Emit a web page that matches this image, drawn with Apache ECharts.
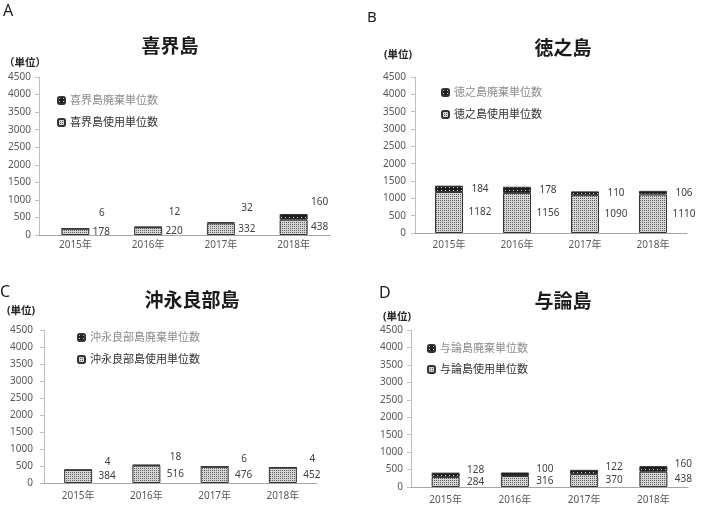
<!DOCTYPE html>
<html><head><meta charset="utf-8">
<script src="https://cdn.jsdelivr.net/npm/echarts@6/dist/echarts.min.js"></script>
<style>html,body{margin:0;padding:0;background:#fff}#c{width:702px;height:505px}</style>
</head><body><div id="c"></div><script>
const categories = ['2015年', '2016年', '2017年', '2018年'];
const kikaiUsed = [178, 220, 332, 438];
const kikaiDiscard = [6, 12, 32, 160];
const tokunoUsed = [1182, 1156, 1090, 1110];
const tokunoDiscard = [184, 178, 110, 106];
const okinoUsed = [384, 516, 476, 452];
const okinoDiscard = [4, 18, 6, 4];
const yoronUsed = [284, 316, 370, 438];
const yoronDiscard = [128, 100, 122, 160];
const islandNames = ['喜界島', '徳之島', '沖永良部島', '与論島'];
const panelLetters = ['A', 'B', 'C', 'D'];
const yMax = 4500, yStep = 500;

function makePattern(w, h, bg, fg, dots) {
  const c = document.createElement('canvas');
  c.width = w; c.height = h;
  const g = c.getContext('2d');
  g.fillStyle = bg; g.fillRect(0, 0, w, h);
  g.fillStyle = fg;
  dots.forEach(d => g.fillRect(d[0], d[1], 1, 1));
  return { image: c, repeat: 'repeat' };
}
const usedFill = makePattern(2, 2, '#d6d6d6', '#5e5e5e', [[0, 0]]);
const discardFill = makePattern(4, 3, '#1e1e1e', '#cfcfcf', [[1, 1]]);

const panels = [
  { name: islandNames[0], used: kikaiUsed, discard: kikaiDiscard,
    grid: { left: 39, top: 77, width: 291, height: 158 }, xMargin: 5, yMargin: 8,
    dx: 12, dy: -15, letter: [3, 11, 16], title: [170, 48], unit: [25, 63, '（単位）'], legend: [57, 102, 124] },
  { name: islandNames[1], used: tokunoUsed, discard: tokunoDiscard,
    grid: { left: 415, top: 77, width: 272, height: 156 }, xMargin: 7, yMargin: 9,
    dx: 17, dy: 0, letter: [367, 18, 15], title: [563, 50], unit: [398, 55, '(単位)'], legend: [441, 94, 116] },
  { name: islandNames[2], used: okinoUsed, discard: okinoDiscard,
    grid: { left: 44, top: 330, width: 273, height: 153 }, xMargin: 8, yMargin: 11,
    dx: 15, dy: -8, letter: [0, 292, 16], title: [192, 302], unit: [21, 311, '(単位)'], legend: [77, 339, 361] },
  { name: islandNames[3], used: yoronUsed, discard: yoronDiscard,
    grid: { left: 411, top: 330, width: 277, height: 157 }, xMargin: 8, yMargin: 8,
    dx: 16, dy: -5, letter: [379, 293, 16], title: [563, 303], unit: [397, 317, '(単位)'], legend: [427, 350, 371] }
];

const FONT = '"Noto Sans", "Noto Sans CJK JP", sans-serif';
const grids = [], xAxes = [], yAxes = [], series = [], legends = [], graphics = [];
panels.forEach((p, i) => {
  grids.push(Object.assign({ containLabel: false }, p.grid));
  xAxes.push({ type: 'category', gridIndex: i, data: categories,
    axisLine: { lineStyle: { color: '#a6a6a6' } }, axisTick: { show: false },
    axisLabel: { color: '#595959', fontSize: 10, margin: p.xMargin, fontFamily: FONT } });
  yAxes.push({ type: 'value', gridIndex: i, min: 0, max: yMax, interval: yStep,
    axisLine: { show: true, lineStyle: { color: '#bfbfbf' } },
    axisTick: { show: true, length: 4, lineStyle: { color: '#bfbfbf' } },
    splitLine: { show: false },
    axisLabel: { color: '#595959', fontSize: 10, margin: p.yMargin, fontFamily: FONT,
      formatter: v => String(v) } });
  const usedName = p.name + '使用単位数';
  const discName = p.name + '廃棄単位数';
  series.push({ name: usedName, type: 'bar', stack: 's' + i, xAxisIndex: i, yAxisIndex: i,
    data: p.used, barWidth: 28,
    itemStyle: { color: usedFill, borderColor: '#333333', borderWidth: 1 },
    label: { show: true, position: 'right', distance: p.dx, align: 'center',
      fontSize: 10, color: '#404040', fontFamily: FONT } });
  series.push({ name: discName, type: 'bar', stack: 's' + i, xAxisIndex: i, yAxisIndex: i,
    data: p.discard, barWidth: 28,
    itemStyle: { color: discardFill, borderColor: '#333333', borderWidth: 1 },
    label: { show: true, position: 'right', distance: p.dx, align: 'center', offset: [0, p.dy],
      fontSize: 10, color: '#404040', fontFamily: FONT } });
  legends.push({ data: [{ name: discName, textStyle: { color: '#8c8c8c' } }],
    left: p.legend[0], top: p.legend[1] - 7, itemWidth: 7, itemHeight: 7, itemGap: 4,
    textStyle: { fontSize: 11, fontFamily: FONT }, padding: 0 });
  legends.push({ data: [{ name: usedName, textStyle: { color: '#333333' } }],
    left: p.legend[0], top: p.legend[2] - 7, itemWidth: 7, itemHeight: 7, itemGap: 4,
    textStyle: { fontSize: 11, fontFamily: FONT }, padding: 0 });
  graphics.push({ type: 'text', x: p.letter[0], y: p.letter[1],
    style: { text: panelLetters[i], fontSize: p.letter[2], fontFamily: FONT, fill: '#222',
      align: 'left', verticalAlign: 'middle' } });
  graphics.push({ type: 'text', x: p.title[0], y: p.title[1],
    style: { text: p.name, fontSize: 19, fontWeight: 'bold', fontFamily: FONT, fill: '#1a1a1a',
      align: 'center', verticalAlign: 'middle' } });
  graphics.push({ type: 'text', x: p.unit[0], y: p.unit[1],
    style: { text: p.unit[2], fontSize: 10.5, fontWeight: 'bold', fontFamily: FONT, fill: '#262626',
      align: 'center', verticalAlign: 'middle' } });
});

const chart = echarts.init(document.getElementById('c'), null, { renderer: 'canvas' });
chart.setOption({
  animation: false,
  backgroundColor: '#ffffff',
  grid: grids, xAxis: xAxes, yAxis: yAxes, series: series, legend: legends, graphic: graphics
});
</script></body></html>
